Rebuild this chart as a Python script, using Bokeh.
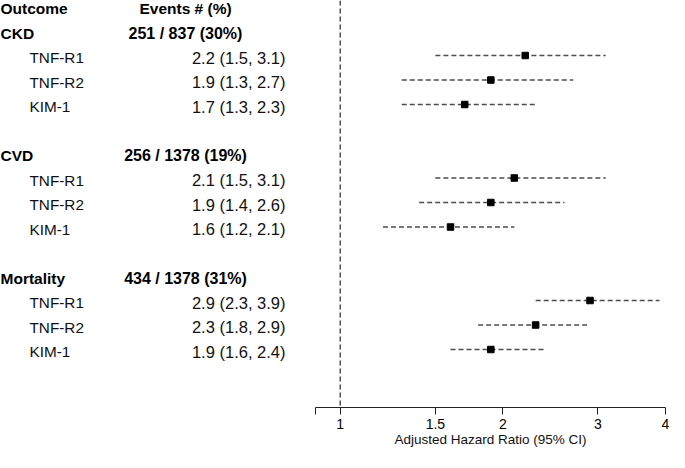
from bokeh.plotting import figure
from bokeh.models import Range1d, Span, FixedTicker, PrintfTickFormatter, ColumnDataSource
from bokeh.layouts import row
from bokeh.core.properties import value
from bokeh.embed import file_html
from bokeh.resources import INLINE

# ---- data ----
outcomes = ["CKD", "CVD", "Mortality"]
events = ["251 / 837 (30%)", "256 / 1378 (19%)", "434 / 1378 (31%)"]
markers = ["TNF-R1", "TNF-R2", "KIM-1"]
hr = [[2.2, 1.9, 1.7], [2.1, 1.9, 1.6], [2.9, 2.3, 1.9]]
ci_lo = [[1.5, 1.3, 1.3], [1.5, 1.4, 1.2], [2.3, 1.8, 1.6]]
ci_hi = [[3.1, 2.7, 2.3], [3.1, 2.6, 2.1], [3.9, 2.9, 2.4]]
x_ticks = [0.9, 1, 1.5, 2, 3, 4]
x_tick_labels = ["", "1", "1.5", "2", "3", "4"]

# ---- build rows ----
grp_y, item_y, item_name, item_hr, item_lo, item_hi, item_txt = [], [], [], [], [], [], []
k = 0
for g in range(len(outcomes)):
    grp_y.append(k)
    for m in range(len(markers)):
        yy = k + 1 + m
        item_y.append(yy)
        item_name.append(markers[m])
        item_hr.append(hr[g][m])
        item_lo.append(ci_lo[g][m])
        item_hi.append(ci_hi[g][m])
        item_txt.append(f"{hr[g][m]:.1f} ({ci_lo[g][m]:.1f}, {ci_hi[g][m]:.1f})")
    k += 5

items = ColumnDataSource(dict(y=item_y, name=item_name, hr=item_hr, lo=item_lo, hi=item_hi, txt=item_txt))
groups = ColumnDataSource(dict(y=grp_y, name=outcomes, ev=events))

H = 452
BOTTOM = 45
yr = Range1d(start=15.367, end=-1.245)
FONT = value("Liberation Sans")
YOFF = 2

# ---- left text panel ----
left = figure(width=315, height=H, x_range=Range1d(0, 315), y_range=yr,
              x_axis_type=None, y_axis_type=None, toolbar_location=None,
              output_backend="svg", min_border_left=0, min_border_right=0,
              min_border_top=0, min_border_bottom=BOTTOM)
left.outline_line_color = None
left.grid.visible = False

hdr = ColumnDataSource(dict(x=[0, 185], y=[-1, -1], t=["Outcome", "Events # (%)"], a=["left", "center"]))
left.text(x="x", y="y", text="t", text_align="a", source=hdr, text_font=FONT,
          text_font_style="bold", text_font_size="15.5px", text_baseline="middle", y_offset=YOFF,
          text_color="black")
left.text(x=0, y="y", text="name", source=groups, text_font=FONT, text_font_style="bold",
          text_font_size="15.5px", text_baseline="middle", y_offset=YOFF, text_color="black")
left.text(x=185, y="y", text="ev", source=groups, text_font=FONT, text_font_style="bold",
          text_font_size="16px", text_baseline="middle", text_align="center", y_offset=YOFF,
          text_color="black")
left.text(x=29, y="y", text="name", source=items, text_font=FONT,
          text_font_size="15.3px", text_baseline="middle", y_offset=YOFF, text_color="#111111")
left.text(x=285, y="y", text="txt", source=items, text_font=FONT, text_align="right",
          text_font_size="16.5px", text_baseline="middle", y_offset=YOFF, text_color="#111111")

# ---- forest panel ----
right = figure(width=354, height=H, x_axis_type="log", x_range=Range1d(0.9, 4), y_range=yr,
               y_axis_type=None, toolbar_location=None, output_backend="svg",
               min_border_left=0, min_border_right=4, min_border_top=0, min_border_bottom=BOTTOM)
right.outline_line_color = None
right.grid.visible = False

right.add_layout(Span(location=1, dimension="height", line_color="#333333",
                      line_dash="5 3", line_width=1.3))
right.segment(x0="lo", x1="hi", y0="y", y1="y", source=items, line_color="#4d4d4d",
              line_dash="5 3", line_width=1.3)
right.scatter(x="hr", y="y", source=items, marker="square", size=6.5, color="black")

ax = right.xaxis[0]
ax.ticker = FixedTicker(ticks=x_ticks, minor_ticks=[])
ax.formatter = PrintfTickFormatter(format="%g")
ax.major_label_overrides = {t: lab for t, lab in zip(x_ticks, x_tick_labels)}
ax.axis_label = "Adjusted Hazard Ratio (95% CI)"
ax.axis_label_text_font = "Liberation Sans"
ax.axis_label_text_font_style = "normal"
ax.axis_label_text_font_size = "13.5px"
ax.axis_label_standoff = 0
ax.major_label_text_font = "Liberation Sans"
ax.major_label_text_font_size = "14px"
ax.major_label_standoff = 4
ax.major_tick_in = 0
ax.major_tick_out = 7
ax.minor_tick_out = 0
ax.minor_tick_in = 0
ax.axis_line_color = "#222222"
ax.major_tick_line_color = "#222222"
ax.major_label_text_color = "black"
ax.axis_label_text_color = "#111111"

layout = row(left, right)
open("out.html", "w").write(file_html(layout, INLINE))
